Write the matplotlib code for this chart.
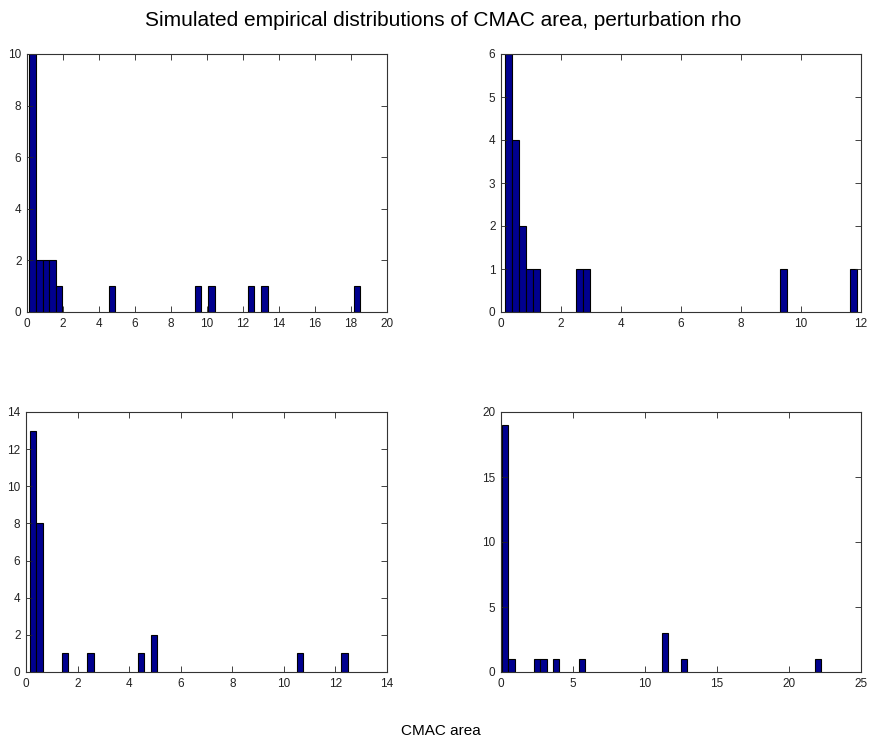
import numpy as np
import matplotlib
matplotlib.use('Agg')
import matplotlib.pyplot as plt

plt.rcParams['font.family'] = ['Liberation Sans', 'DejaVu Sans']

# 50-bin histograms (MATLAB hist): data range and non-empty bins per panel
n_bins = 50

p1_range = (0.13, 18.52)
p1_bins = [0, 1, 2, 3, 4, 12, 25, 27, 33, 35, 49]
p1_counts = [10, 2, 2, 2, 1, 1, 1, 1, 1, 1, 1]

p2_range = (0.144, 11.87)
p2_bins = [0, 1, 2, 3, 4, 10, 11, 39, 49]
p2_counts = [6, 4, 2, 1, 1, 1, 1, 1, 1]

p3_range = (0.155, 12.47)
p3_bins = [0, 1, 5, 9, 17, 19, 42, 49]
p3_counts = [13, 8, 1, 1, 1, 2, 1, 1]

p4_range = (0.07, 22.24)
p4_bins = [0, 1, 5, 6, 8, 12, 25, 28, 49]
p4_counts = [19, 1, 1, 1, 1, 1, 3, 1, 1]

xlims = [(0, 20), (0, 12), (0, 14), (0, 25)]
xtick_steps = [2, 2, 2, 5]
ylims = [(0, 10), (0, 6), (0, 14), (0, 20)]
ytick_steps = [2, 1, 2, 5]

W, H = 869, 742
fig = plt.figure(figsize=(W / 100, H / 100), dpi=100)

# axes boxes in pixels: left, top, right, bottom
boxes = [(27, 54, 387, 312), (501, 54, 861, 312),
         (26, 412, 387, 672), (501, 412, 861, 672)]

panels = [(p1_range, p1_bins, p1_counts), (p2_range, p2_bins, p2_counts),
          (p3_range, p3_bins, p3_counts), (p4_range, p4_bins, p4_counts)]

for k, ((lo, hi), bins, counts) in enumerate(panels):
    l, t, r, b = boxes[k]
    ax = fig.add_axes([l / W, 1 - b / H, (r - l) / W, (b - t) / H])
    width = (hi - lo) / n_bins
    full = np.zeros(n_bins)
    full[bins] = counts
    edges = lo + width * np.arange(n_bins)
    nz = full > 0
    ax.bar(edges[nz], full[nz], width=width, align='edge',
           color='#00008f', edgecolor='black', linewidth=0.8)
    ax.set_xlim(*xlims[k])
    ax.set_ylim(*ylims[k])
    ax.set_xticks(np.arange(xlims[k][0], xlims[k][1] + 0.001, xtick_steps[k]))
    ax.set_yticks(np.arange(ylims[k][0], ylims[k][1] + 0.001, ytick_steps[k]))
    ax.tick_params(direction='in', top=True, right=True, labelsize=8.5,
                   length=4, width=0.6, pad=4, colors='#222222')
    for s in ax.spines.values():
        s.set_linewidth(0.8)
        s.set_color('#333333')

fig.text(443 / W, 1 - 21 / H, 'Simulated empirical distributions of CMAC area, perturbation rho',
         ha='center', va='center', fontsize=15)
fig.text(441 / W, 1 - 731 / H, 'CMAC area', ha='center', va='center', fontsize=11)

fig.savefig('out.png', dpi=100, facecolor='white')
